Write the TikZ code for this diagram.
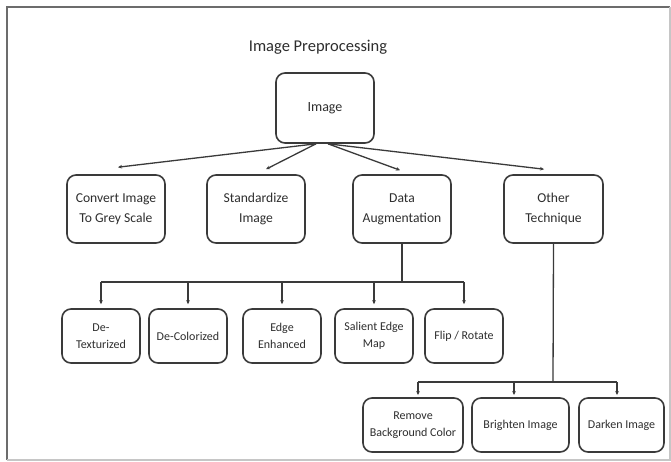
\documentclass[tikz,border=0pt]{standalone}
\usepackage{fontspec}
\setmainfont{Carlito}
\usetikzlibrary{arrows.meta,calc}
\definecolor{ink}{HTML}{3A3A3A}
\definecolor{txt}{HTML}{2E2E2E}
\begin{document}
\begin{tikzpicture}[x=1pt,y=-1pt,
  box/.style={draw=ink,line width=1.6pt,rounded corners=9pt,align=center,
    text=txt,font=\fontsize{13.6}{20}\selectfont,inner sep=0pt},
  bigbox/.style={box,minimum width=98pt,minimum height=68pt},
  lowbox/.style={box,font=\fontsize{12}{16.7}\selectfont,minimum height=54pt},
  smallbox/.style={lowbox,minimum width=78pt},
  conn/.style={draw=ink,line width=1.3pt},
  arr/.style={conn,-{Stealth[length=4pt,width=3.6pt]}}]
\useasboundingbox (0,0) rectangle (671,461);
\fill[white] (0,0) rectangle (671,461);
% frame
\draw[gray!85!black,line width=1.6pt] (7,460) -- (7,7) -- (670,7);
\draw[gray!45,line width=1.2pt] (7,460) -- (670,460) -- (670,7);
% title
\node[text=txt,font=\fontsize{16.5}{20}\selectfont] (title) at (318,47) {Image Preprocessing};
% nodes
\node[box,font=\fontsize{14}{20}\selectfont,minimum width=98pt,minimum height=70pt] (img) at (325,108) {Image};
\node[bigbox] (conv) at (116,209) {Convert Image\\To Grey Scale};
\node[bigbox] (std) at (256,209) {Standardize\\Image};
\node[bigbox] (da) at (402,209) {Data\\Augmentation};
\node[bigbox,minimum width=99pt] (oth) at (553.5,209) {Other\\Technique};
\node[smallbox] (dt) at (101,336) {De-\\Texturized};
\node[smallbox] (dc) at (188,336) {De-Colorized};
\node[smallbox] (ee) at (282,336) {Edge\\Enhanced};
\node[smallbox] (se) at (374,336) {Salient Edge\\Map};
\node[smallbox] (fr) at (464,336) {Flip / Rotate};
\node[lowbox,minimum width=100pt] (rm) at (413,425) {Remove\\Background Color};
\node[lowbox,minimum width=97pt] (br) at (520.5,425) {Brighten Image};
\node[lowbox,minimum width=85pt] (dk) at (621.5,425) {Darken Image};
% connectors from image
\draw[arr] ([xshift=-9pt]img.south) -- ([xshift=2pt,yshift=7pt]conv.north);
\draw[arr] ([xshift=-9pt]img.south) -- ([xshift=10pt,yshift=5pt]std.north);
\draw[arr] ([xshift=3pt]img.south) -- ([xshift=-2pt,yshift=4pt]da.north);
\draw[arr] ([xshift=3pt]img.south) -- ([xshift=-9.5pt,yshift=5pt]oth.north);
% data augmentation branch
\coordinate (dabus) at (402,282);
\draw[conn] (da.south) -- (dabus);
\draw[conn] (dt.north |- dabus) -- (fr.north |- dabus);
\foreach \n in {dt,dc,ee,se,fr}{
  \draw[arr] (\n.north |- dabus) -- ([yshift=4pt]\n.north);
}
% other technique branch
\coordinate (otbus) at (553,382);
\coordinate (rmtop) at (418,398);
\coordinate (brtop) at (514,398);
\coordinate (dktop) at (617,398);
\draw[conn] (oth.south) -- (otbus);
\draw[conn] (rmtop |- otbus) -- (dktop |- otbus);
\draw[arr] (rmtop |- otbus) -- ([yshift=3pt]rmtop);
\draw[arr] (brtop |- otbus) -- ([yshift=3pt]brtop);
\draw[arr] (dktop |- otbus) -- ([yshift=3pt]dktop);
\end{tikzpicture}
\end{document}
